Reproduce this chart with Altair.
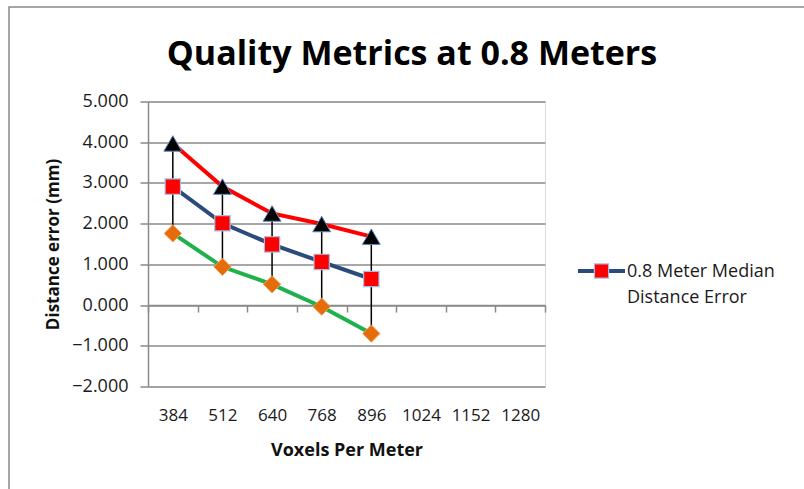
import altair as alt
import pandas as pd

# Voxel resolutions on the x axis (only the first five have measurements)
voxels = ["384", "512", "640", "768", "896", "1024", "1152", "1280"]
measured = ["384", "512", "640", "768", "896"]

# Distance error (mm) at 0.8 m
upper = [3.97, 2.91, 2.25, 1.99, 1.68]
median = [2.91, 2.01, 1.49, 1.06, 0.64]
lower = [1.76, 0.94, 0.51, -0.04, -0.70]

FONT = "Open Sans"
GRID = "#8a8a8a"
W, H = 397, 285

wide = pd.DataFrame({"vpm": measured, "upper": upper, "median": median, "lower": lower})
long = wide.melt(id_vars="vpm", var_name="series", value_name="err")

x_enc = alt.X(
    "vpm:O",
    bandPosition=0.5,
    scale=alt.Scale(type="band", domain=voxels, paddingInner=0, paddingOuter=0),
    axis=alt.Axis(
        title="Voxels Per Meter",
        orient="bottom",
        offset=-H * 2 / 7,
        tickBand="extent",
        tickSize=7,
        tickColor=GRID,
        tickWidth=1.5,
        domainColor=GRID,
        domainWidth=1.5,
        labelAngle=0,
        labelPadding=95,
        labelFont=FONT,
        labelFontSize=17,
        labelColor="#1a1a1a",
        titleFont=FONT,
        titleFontSize=18,
        titleFontWeight="bold",
        titleColor="#111111",
        titlePadding=18,
        grid=False,
    ),
)

y_scale = alt.Scale(domain=[-2, 5], nice=False, zero=False)
y_axis = alt.Axis(
    title="Distance error (mm)",
    values=[-2, -1, 0, 1, 2, 3, 4, 5],
    format=".3f",
    tickSize=8,
    tickColor=GRID,
    tickWidth=1.5,
    domainColor=GRID,
    domainWidth=1.5,
    gridColor=GRID,
    gridWidth=1.5,
    labelFont=FONT,
    labelFontSize=18,
    labelColor="#1a1a1a",
    labelPadding=12,
    titleFont=FONT,
    titleFontSize=17,
    titleFontWeight="bold",
    titleColor="#111111",
    titlePadding=9,
)

series_color = alt.Scale(
    domain=["upper", "median", "lower"], range=["#ff0000", "#2b4b7c", "#1fb14b"]
)

lines = alt.Chart(long).mark_line(strokeWidth=4).encode(
    x=x_enc,
    y=alt.Y("err:Q", scale=y_scale, axis=y_axis),
    color=alt.Color("series:N", scale=series_color, legend=None),
    detail="series:N",
)

hilo = alt.Chart(wide).mark_rule(color="#000000", strokeWidth=1.5).encode(
    x=alt.X("vpm:O", bandPosition=0.5),
    y="lower:Q",
    y2="upper:Q",
)

tri = alt.Chart(wide).mark_point(
    shape="triangle-up", size=320, filled=True, fill="#000000",
    stroke="#5b86c4", strokeWidth=1, opacity=1,
).encode(x=alt.X("vpm:O", bandPosition=0.5), y="upper:Q")

sq = alt.Chart(wide).mark_point(
    shape="square", size=235, filled=True, fill="#ff0000",
    stroke="#a4bde3", strokeWidth=1.2, opacity=1,
).encode(x=alt.X("vpm:O", bandPosition=0.5), y="median:Q")

dia = alt.Chart(wide).mark_point(
    shape="diamond", size=300, filled=True, fill="#e46c0a",
    stroke="#f2a05c", strokeWidth=1, opacity=1,
).encode(x=alt.X("vpm:O", bandPosition=0.5), y="lower:Q")

# Legend entry for the median series
leg_line = alt.Chart().mark_rule(color="#2b4b7c", strokeWidth=4).encode(
    x=alt.value(430), x2=alt.value(477), y=alt.value(169.5)
)
leg_sq = alt.Chart().mark_point(
    shape="square", size=200, filled=True, fill="#ff0000",
    stroke="#a4bde3", strokeWidth=1.2, opacity=1,
).encode(x=alt.value(453.5), y=alt.value(169.5))
leg_t1 = alt.Chart().mark_text(
    text="0.8 Meter Median", align="left", baseline="middle",
    font=FONT, fontSize=18, color="#1a1a1a",
).encode(x=alt.value(479), y=alt.value(170))
leg_t2 = alt.Chart().mark_text(
    text="Distance Error", align="left", baseline="middle",
    font=FONT, fontSize=18, color="#1a1a1a",
).encode(x=alt.value(479), y=alt.value(196.5))

# Chart heading
heading = alt.Chart().mark_text(
    text="Quality Metrics at 0.8 Meters", align="center", baseline="alphabetic",
    font=FONT, fontSize=34, fontWeight="bold", color="#000000",
).encode(x=alt.value(264), y=alt.value(-37))

# Outer chart frame
frame = alt.Chart().mark_rect(
    filled=False, stroke="#888888", strokeWidth=1.5
).encode(
    x=alt.value(-139), x2=alt.value(700), y=alt.value(-94.5), y2=alt.value(430)
)

chart = alt.layer(
    frame, lines, hilo, tri, sq, dia, leg_line, leg_sq, leg_t1, leg_t2, heading
).properties(
    width=W,
    height=H,
    autosize=alt.AutoSizeParams(type="none"),
    padding={"left": 148, "top": 101.5, "right": 259, "bottom": 102.5},
).configure_view(stroke=None).configure(background="white")

chart.save("out.html", embed_options={"renderer": "svg", "actions": False})
